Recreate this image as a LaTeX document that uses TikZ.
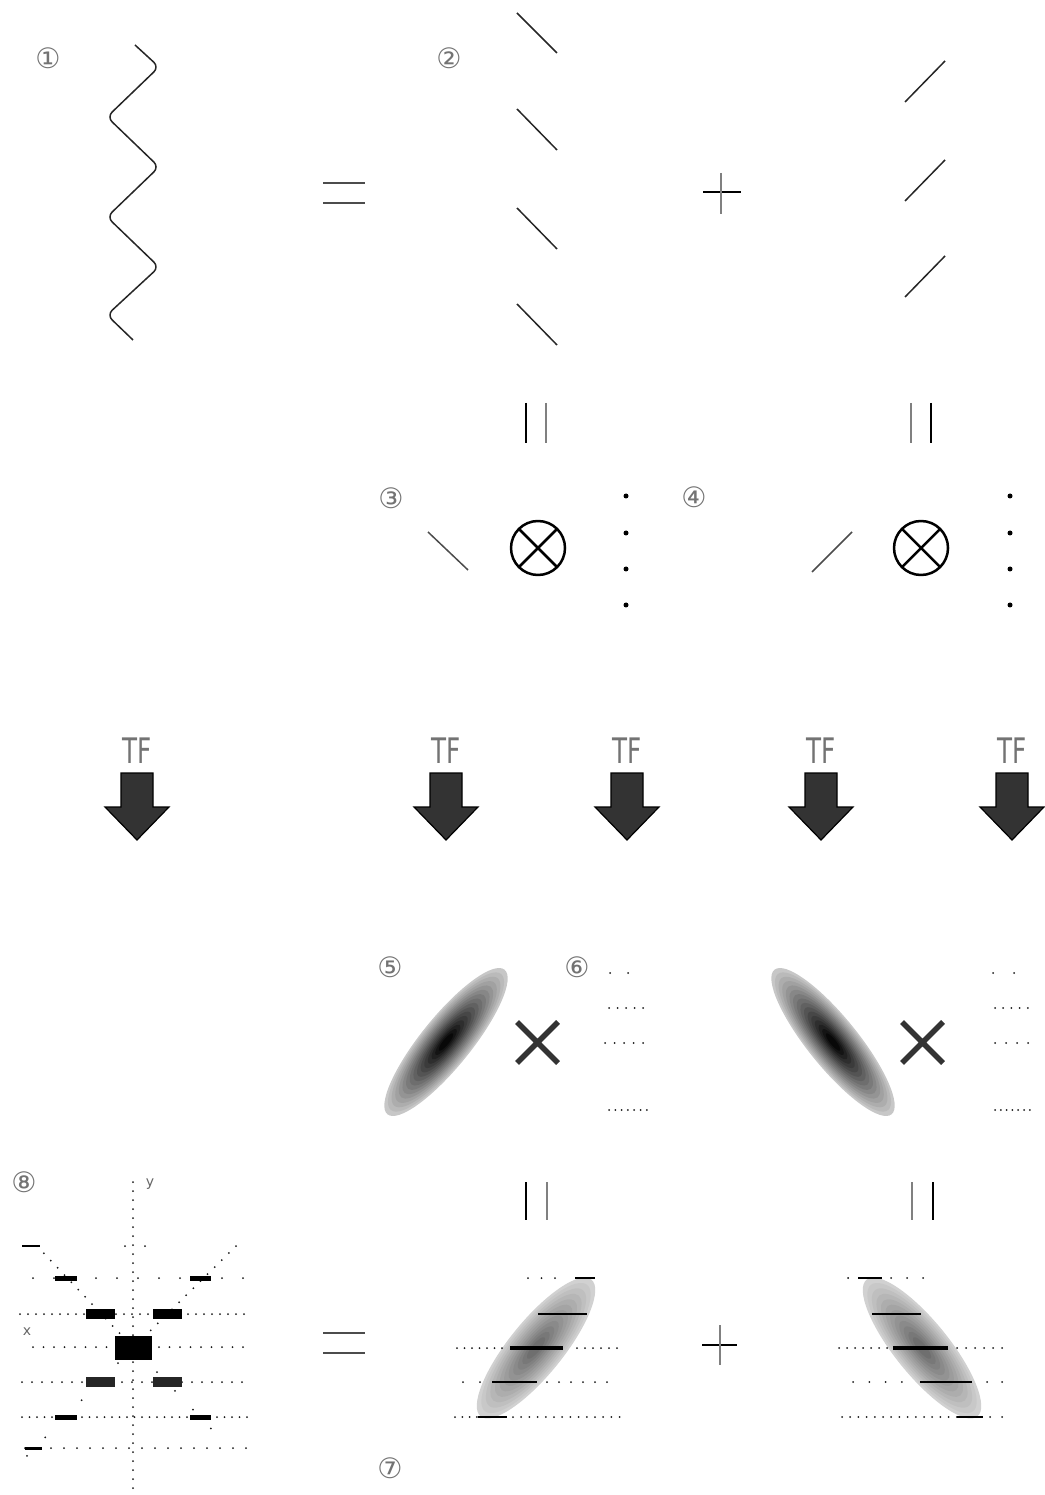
\documentclass[tikz,border=0pt]{standalone}
\usepackage{fontspec}
\setmainfont{DejaVu Sans}
\tikzset{
  thinline/.style={line width=0.15mm, black!85},
  barsolid/.style={line width=0.28mm, black},
  barlight/.style={line width=0.28mm, black!50},
  circnum/.style={font=\fontsize{8}{8}\selectfont, text=black!55, inner sep=0pt},
  axislabel/.style={font=\fontsize{4}{4}\selectfont, text=black!60, inner sep=0pt},
  tflabel/.style={font=\fontsize{10}{10}\selectfont, text=black!55, inner sep=0pt},
  tfarrow/.style={fill=black!80, draw=black, line width=0.12mm, line join=miter},
  dotrow/.style={line width=0.2mm, line cap=round, black!90, dash pattern=on 0pt off #1},
  dotrow/.default=0.8mm,
  bigdot/.style={fill=black},
  crossmark/.style={line width=0.55mm, black!80},
  specline/.style={line width=0.2mm, black},
  tfdown/.pic={
    \filldraw[tfarrow] (-16,0) -- (16,0) -- (16,34) -- (32,34) -- (0,67)
      -- (-32,34) -- (-16,34) -- cycle;
    \node[tflabel] (-tf) at (0,-22) {\scalebox{0.7}[1]{TF}};
  },
  otimes/.pic={
    \draw[line width=0.25mm] (0,0) circle[radius=27];
    \draw[line width=0.25mm] (-19,-19) -- (19,19) (-19,19) -- (19,-19);
  },
}
\begin{document}
\begin{tikzpicture}[x=0.1mm,y=-0.1mm,line join=round]
  % Frame of the original page.
  \useasboundingbox (0,0) rectangle (1044,1495);

  % Step labels.
  \node[circnum] (n1) at (48,58) {①};
  \node[circnum] (n2) at (449,58) {②};
  \node[circnum] (n3) at (391,498) {③};
  \node[circnum] (n4) at (694,497) {④};
  \node[circnum] (n5) at (390,967) {⑤};
  \node[circnum] (n6) at (577,967) {⑥};
  \node[circnum] (n7) at (390,1468) {⑦};
  \node[circnum] (n8) at (24,1182) {⑧};

  % Top row: the wave and its two diagonal families.
  \draw[thinline, rounded corners=2] (135,45) -- (159,67) -- (107,117) -- (159,167)
    -- (107,217) -- (159,267) -- (107,315) -- (133,340);
  \draw[barlight, black!70] (323,183) -- (365,183);
  \draw[barlight, black!70] (323,203) -- (365,203);
  \draw[thinline] (517,13) -- (557,53);
  \draw[thinline] (517,109) -- (557,150);
  \draw[thinline] (517,208) -- (557,249);
  \draw[thinline] (517,304) -- (557,345);
  \draw[barsolid] (703,192) -- (741,192);
  \draw[barlight] (721,173) -- (721,214);
  \draw[thinline] (905,102) -- (945,61);
  \draw[thinline] (905,201) -- (945,160);
  \draw[thinline] (905,297) -- (945,256);

  % Vertical equals signs.
  \draw[barsolid] (526,403) -- (526,443);
  \draw[barlight] (546,403) -- (546,443);
  \draw[barlight] (911,403) -- (911,443);
  \draw[barsolid] (931,403) -- (931,443);

  % Row three: one line tensor a column of samples.
  \draw[thinline, black!70] (428,532) -- (468,570);
  \pic (ota) at (538,548) {otimes};
  \fill[bigdot] (626,496) circle[radius=2.5];
  \fill[bigdot] (626,533) circle[radius=2.5];
  \fill[bigdot] (626,569) circle[radius=2.5];
  \fill[bigdot] (626,605) circle[radius=2.5];
  \draw[thinline, black!70] (812,572) -- (852,532);
  \pic (otb) at (921,548) {otimes};
  \fill[bigdot] (1010,496) circle[radius=2.5];
  \fill[bigdot] (1010,533) circle[radius=2.5];
  \fill[bigdot] (1010,569) circle[radius=2.5];
  \fill[bigdot] (1010,605) circle[radius=2.5];

  % Transform arrows.
  \pic (tfa) at (137,773) {tfdown};
  \pic (tfb) at (446,773) {tfdown};
  \pic (tfc) at (627,773) {tfdown};
  \pic (tfd) at (821,773) {tfdown};
  \pic (tfe) at (1012,773) {tfdown};

  % Row five: shaded lobes times sample spectra.
  \foreach \k in {0,...,15} {
    \pgfmathsetmacro\tone{22+5*\k}
    \fill[black!\tone, shift={(446,1042)}, rotate=51]
      (0,0) ellipse[x radius={93*(1-\k/17)}, y radius={25*(1-\k/17)}];
    \fill[black!\tone, shift={(833,1042)}, rotate=-51]
      (0,0) ellipse[x radius={93*(1-\k/17)}, y radius={25*(1-\k/17)}];
  }
  \draw[crossmark] (517,1022) -- (558,1063) (517,1063) -- (558,1022);
  \draw[crossmark] (902,1022) -- (943,1063) (902,1063) -- (943,1022);
  \draw[dotrow=1.8mm] (610,973) -- (628,973);
  \draw[dotrow=0.85mm] (609,1008) -- (643,1008);
  \draw[dotrow=0.95mm] (605,1043) -- (643,1043);
  \draw[dotrow=0.63mm] (609,1110) -- (647,1110);
  \draw[dotrow=2.1mm] (993,973) -- (1014,973);
  \draw[dotrow=0.82mm] (995,1008) -- (1028,1008);
  \draw[dotrow=1.1mm] (995,1043) -- (1028,1043);
  \draw[dotrow=0.58mm] (995,1110) -- (1030,1110);

  \draw[barsolid] (526,1182) -- (526,1220);
  \draw[barlight] (547,1182) -- (547,1220);
  \draw[barlight] (912,1182) -- (912,1220);
  \draw[barsolid] (933,1182) -- (933,1220);

  % Bottom left: the combined spectrum.
  \draw[dotrow=0.9mm] (133,1182) -- (133,1493);
  \node[axislabel] (ylab) at (150,1184) {y};
  \node[axislabel] (xlab) at (27,1332) {x};
  \draw[dotrow=2mm] (125,1246) -- (145,1246);
  \draw[dotrow=2.1mm] (33,1278) -- (243,1278);
  \draw[dotrow=0.8mm] (20,1314) -- (245,1314);
  \draw[dotrow=1.05mm] (33,1347) -- (243,1347);
  \draw[dotrow=1.0mm] (22,1382) -- (243,1382);
  \draw[dotrow=0.75mm] (22,1417) -- (248,1417);
  \draw[dotrow=1.3mm] (25,1448) -- (247,1448);
  \draw[dotrow=1mm] (37,1246) -- (126,1340);
  \draw[dotrow=1mm] (236,1246) -- (141,1340);
  \draw[dotrow=2.6mm] (118,1363) -- (25,1458);
  \draw[dotrow=2.6mm] (157,1372) -- (222,1440);
  \draw[specline] (22,1246) -- (40,1246);
  \fill (55,1276) rectangle (77,1281);
  \fill (190,1276) rectangle (211,1281);
  \fill (86,1309) rectangle (115,1319);
  \fill (153,1309) rectangle (182,1319);
  \fill (115,1336) rectangle (152,1360);
  \fill[black!85] (86,1377) rectangle (115,1387);
  \fill[black!85] (153,1377) rectangle (182,1387);
  \fill (55,1415) rectangle (77,1420);
  \fill (190,1415) rectangle (211,1420);
  \fill (25,1447) rectangle (42,1450);

  \draw[barlight, black!70] (323,1333) -- (365,1333);
  \draw[barlight, black!70] (323,1353) -- (365,1353);
  \draw[barsolid] (702,1345) -- (737,1345);
  \draw[barlight] (720,1325) -- (720,1365);

  % Bottom middle: sheared lobe.
  \foreach \k in {0,...,11} {
    \pgfmathsetmacro\tone{18+3.5*\k}
    \fill[black!\tone, shift={(536,1348)}, rotate=51]
      (0,0) ellipse[x radius={88*(1-\k/13)}, y radius={27*(1-\k/13)}];
    \fill[black!\tone, shift={(922,1348)}, rotate=-51]
      (0,0) ellipse[x radius={88*(1-\k/13)}, y radius={27*(1-\k/13)}];
  }
  \draw[dotrow=1.35mm] (528,1278) -- (555,1278);
  \draw[specline] (575,1278) -- (595,1278);
  \draw[specline] (538,1314) -- (587,1314);
  \draw[dotrow=0.75mm] (457,1348) -- (503,1348);
  \draw[specline, line width=0.4mm] (510,1348) -- (563,1348);
  \draw[dotrow=0.8mm] (577,1348) -- (617,1348);
  \draw[dotrow=1.7mm] (463,1382) -- (480,1382);
  \draw[specline] (492,1382) -- (537,1382);
  \draw[dotrow=1.2mm] (547,1382) -- (608,1382);
  \draw[dotrow=0.73mm] (455,1417) -- (477,1417);
  \draw[specline] (478,1417) -- (507,1417);
  \draw[dotrow=0.82mm] (513,1417) -- (620,1417);

  % Bottom right: sheared lobe, other sense.
  \fill (848,1278) circle[radius=1];
  \draw[specline] (858,1278) -- (882,1278);
  \draw[dotrow=1.6mm] (891,1278) -- (923,1278);
  \draw[specline] (872,1314) -- (921,1314);
  \draw[dotrow=0.8mm] (839,1348) -- (887,1348);
  \draw[specline, line width=0.4mm] (893,1348) -- (948,1348);
  \draw[dotrow=0.9mm] (957,1348) -- (1002,1348);
  \draw[dotrow=1.63mm] (853,1382) -- (902,1382);
  \draw[specline] (920,1382) -- (972,1382);
  \draw[dotrow=1.5mm] (987,1382) -- (1002,1382);
  \draw[dotrow=0.82mm] (842,1417) -- (957,1417);
  \draw[specline] (957,1417) -- (983,1417);
  \draw[dotrow=1.2mm] (990,1417) -- (1002,1417);
\end{tikzpicture}
\end{document}
